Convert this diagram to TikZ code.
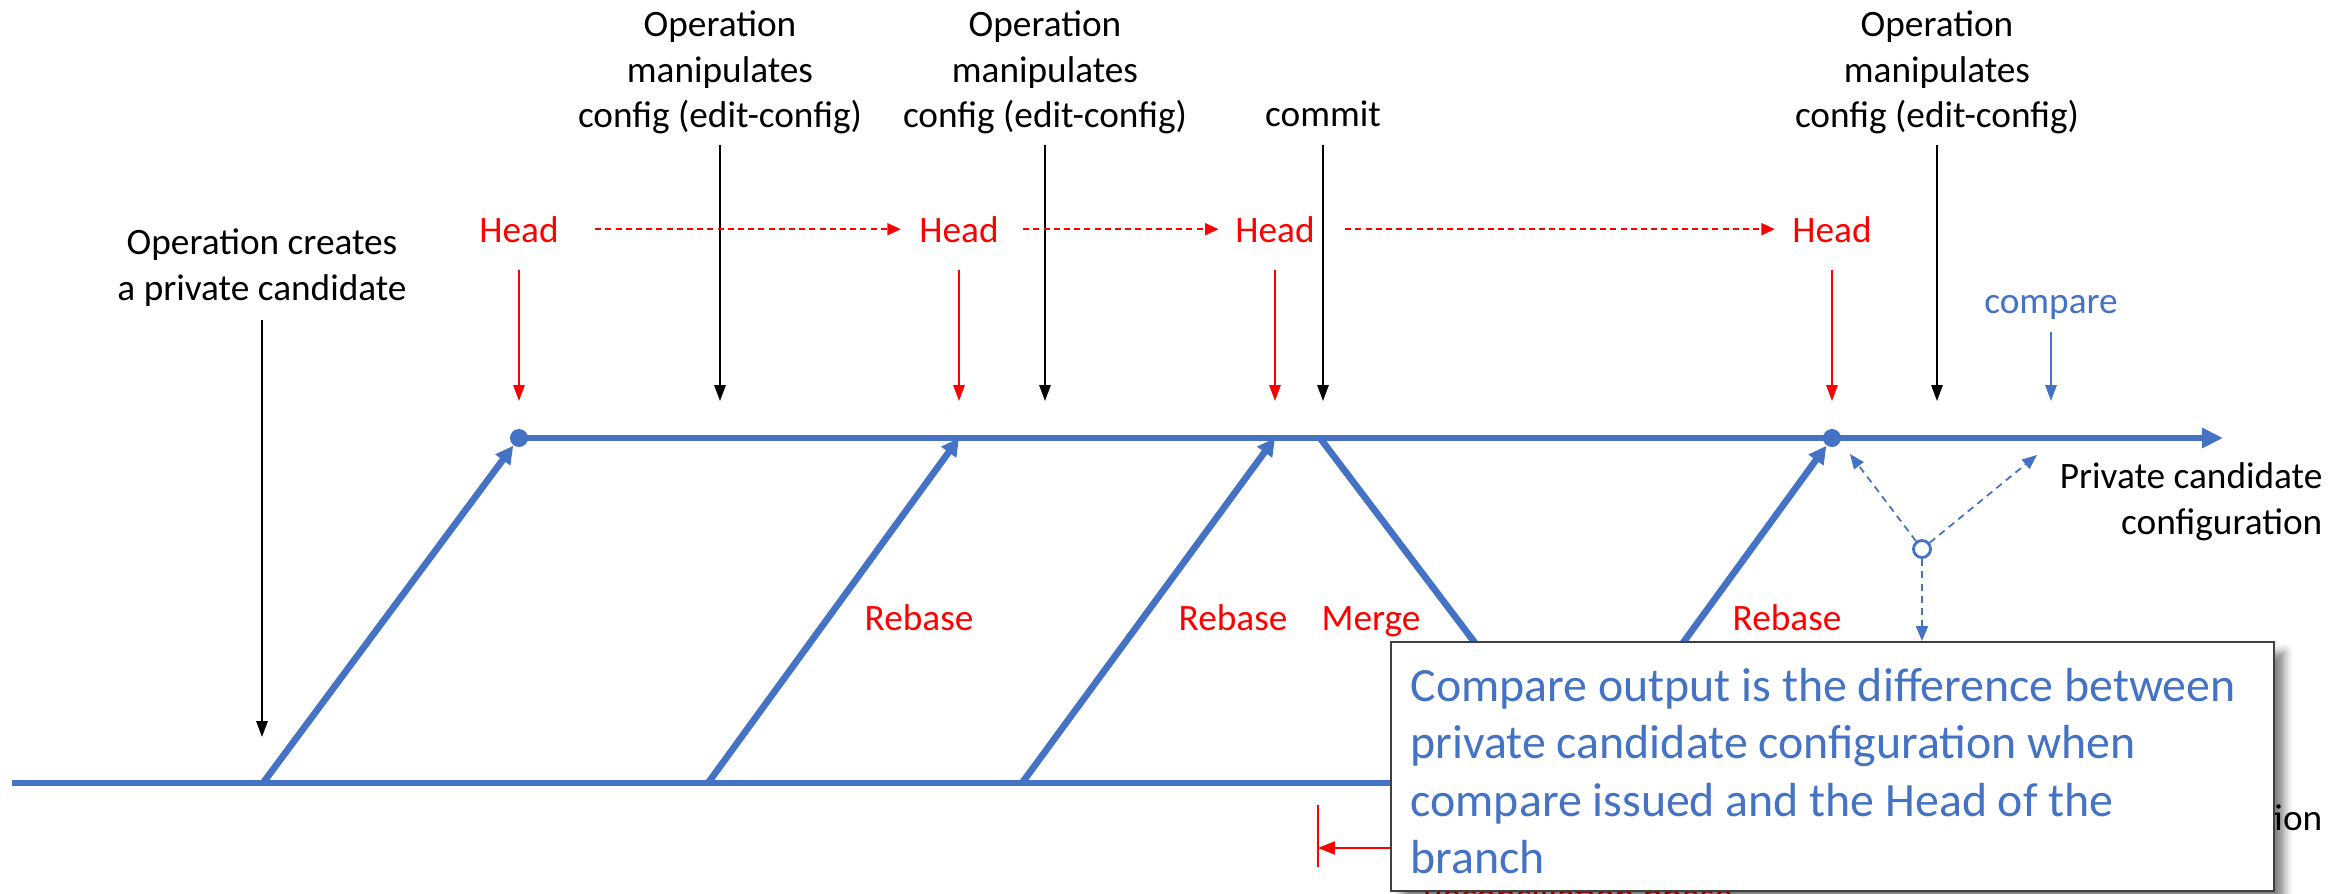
\documentclass[tikz,border=0pt]{standalone}
\usepackage{fontspec}
\setmainfont{Carlito}
\usetikzlibrary{arrows.meta,shadows.blur}
\definecolor{pcblue}{HTML}{4472C4}
\definecolor{pcred}{HTML}{FF0000}
\definecolor{boxedge}{HTML}{404040}

\begin{document}
\begin{tikzpicture}[x=0.01cm,y=-0.01cm,
  lbl/.style={font=\fontsize{10.6}{13}\selectfont, align=center, inner sep=0pt},
  headlbl/.style={lbl, text=pcred},
  branch/.style={draw=pcblue, line width=1.9pt},
  rebaseline/.style={branch, -{Triangle[length=5pt,width=5pt]}},
  opArrow/.style={draw=black, line width=0.5pt, -{Triangle[length=4.5pt,width=3.2pt]}},
  headArrow/.style={draw=pcred, line width=0.5pt, -{Triangle[length=4.5pt,width=3.2pt]}},
  cmpMark/.style={draw=pcblue, line width=0.5pt, -{Triangle[length=4.5pt,width=3.2pt]}},
  moveArrow/.style={draw=pcred, line width=0.5pt, dash pattern=on 1.7pt off 1.2pt, -{Triangle[length=3.8pt,width=3.4pt]}},
  cmpArrow/.style={draw=pcblue, line width=0.5pt, dash pattern=on 2pt off 1.5pt, -{Triangle[length=4.2pt,width=3.4pt]}},
  dot/.style={circle, fill=pcblue, inner sep=0pt, minimum size=0.18cm},
  notebox/.style={draw=boxedge, line width=0.6pt, fill=white,
    blur shadow={shadow xshift=3pt, shadow yshift=-3pt, shadow blur radius=2.5pt, shadow opacity=50}},
  notetext/.style={font=\fontsize{13.6}{16.3}\selectfont, text=pcblue, align=left, inner sep=0pt},
]
\useasboundingbox (0,0) rectangle (2347,893);

% reference rows for the vertical marker arrows
\coordinate (yOp) at (0,145);
\coordinate (yHead) at (0,270);
\coordinate (yCmp) at (0,332);
\coordinate (yMark) at (0,401);
\coordinate (yCreateTop) at (0,320);
\coordinate (yCreateEnd) at (0,737);

% operation labels
\node[lbl, anchor=north] (op1) at (720,10) {Operation\\manipulates\\config (edit-config)};
\node[lbl, anchor=north] (op2) at (1045,10) {Operation\\manipulates\\config (edit-config)};
\node[lbl, anchor=base] (commit) at (1323,126) {commit};
\node[lbl, anchor=north] (op3) at (1937,10) {Operation\\manipulates\\config (edit-config)};
\node[lbl, anchor=north] (create) at (262,228) {Operation creates\\a private candidate};

\draw[opArrow] (op1 |- yOp) -- (op1 |- yMark);
\draw[opArrow] (op2 |- yOp) -- (op2 |- yMark);
\draw[opArrow] (commit |- yOp) -- (commit |- yMark);
\draw[opArrow] (op3 |- yOp) -- (op3 |- yMark);
\draw[opArrow] (create |- yCreateTop) -- (create |- yCreateEnd);

% head markers
\node[headlbl, anchor=base] (h1) at (519,242) {Head};
\node[headlbl, anchor=base] (h2) at (959,242) {Head};
\node[headlbl, anchor=base] (h3) at (1275,242) {Head};
\node[headlbl, anchor=base] (h4) at (1832,242) {Head};

\draw[headArrow] (h1 |- yHead) -- (h1 |- yMark);
\draw[headArrow] (h2 |- yHead) -- (h2 |- yMark);
\draw[headArrow] (h3 |- yHead) -- (h3 |- yMark);
\draw[headArrow] (h4 |- yHead) -- (h4 |- yMark);

\draw[moveArrow, shorten <=10.2pt, shorten >=5.1pt] (h1) -- (h2);
\draw[moveArrow, shorten <=6.8pt, shorten >=4.6pt] (h2) -- (h3);
\draw[moveArrow, shorten <=8.5pt, shorten >=4.8pt] (h3) -- (h4);

% compare marker
\node[lbl, text=pcblue, anchor=base] (cmp) at (2051,313) {compare};
\draw[cmpMark] (cmp |- yCmp) -- (cmp |- yMark);

% branch points
\coordinate (b0) at (12,783);
\coordinate (bEnd) at (2223,783);
\coordinate (p1) at (263,783);
\coordinate (p2) at (708,783);
\coordinate (p3) at (1022,783);
\coordinate (mB) at (1581,783);
\coordinate (t2) at (959,438);
\coordinate (t3) at (1275,438);
\coordinate (mT) at (1320,438);
\coordinate (cEnd) at (2223,438);
\node[dot] (t1) at (519,438) {};
\node[dot] (t4) at (1832,438) {};

% running and private candidate lines
\draw[branch, -{Triangle[length=6pt,width=5.5pt]}] (b0) -- (bEnd);
\draw[branch, -{Triangle[length=6pt,width=5.5pt]}] (t1.center) -- (cEnd);

% rebase and merge transitions
\draw[rebaseline] (p1) -- (t1);
\draw[rebaseline] (p2) -- (t2);
\draw[rebaseline] (p3) -- (t3);
\draw[branch] (mT) -- (mB);
\draw[rebaseline] (mB) -- (t4);

\node[headlbl, anchor=base] (rb1) at (919,630) {Rebase};
\node[headlbl, anchor=base] (rb2) at (1233,630) {Rebase};
\node[headlbl, anchor=base] (mg) at (1371,630) {Merge};
\node[headlbl, anchor=base] (rb3) at (1787,630) {Rebase};

% line labels
\node[lbl, align=right, anchor=north east] (pclbl) at (2323,462) {Private candidate\\configuration};
\node[lbl, anchor=base east] (runlbl) at (2323,830) {Running configuration};

% compare fan-out
\node[circle, draw=pcblue, fill=white, line width=0.8pt, inner sep=0pt, minimum size=0.17cm] (cc) at (1922,549) {};
\coordinate (cUL) at (1850,454);
\coordinate (cUR) at (2037,455);
\draw[cmpArrow] (cc) -- (cUL);
\draw[cmpArrow] (cc) -- (cUR);

% reconciliation phase marker
\coordinate (barTop) at (1318,805);
\coordinate (barBot) at (1318,867);
\coordinate (barMid) at (1318,848);
\draw[pcred, line width=0.5pt] (barTop) -- (barBot);
\node[headlbl, anchor=base] (recon) at (1578,908) {Reconciliation phase};

% explanatory note
\node[notebox, anchor=north west, minimum width=8.82cm, minimum height=2.49cm, inner sep=0pt] (note) at (1390,641) {};
\node[notetext, anchor=west] (notetxt) at ([xshift=0.2cm,yshift=-0.045cm]note.west)
  {Compare output is the difference between\\private candidate configuration when\\compare issued and the Head of the\\branch};

\draw[cmpArrow] (cc) -- (cc |- note.north);
\draw[pcred, line width=0.5pt, -{Triangle[length=4.8pt,width=3.7pt]}] (note.west |- barMid) -- (barMid);
\end{tikzpicture}
\end{document}
